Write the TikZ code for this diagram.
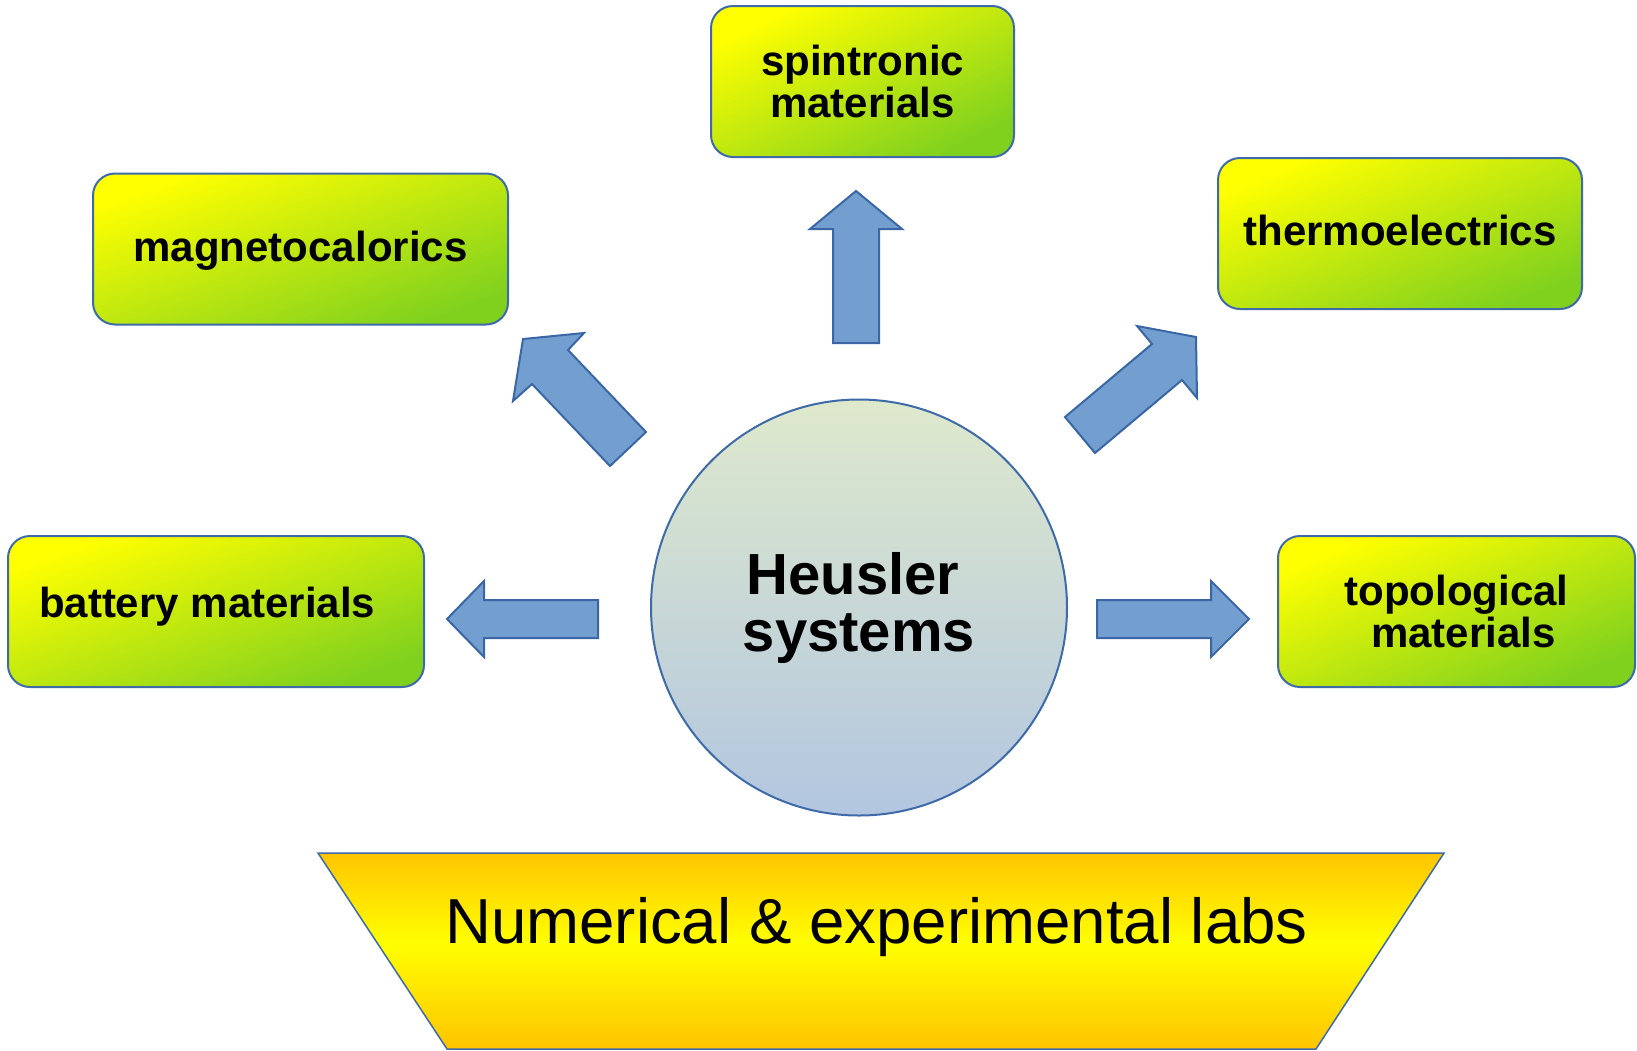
\documentclass[tikz,border=0pt]{standalone}
\usepackage{fontspec}
\setmainfont{Liberation Sans}
\usetikzlibrary{shapes.geometric}

\definecolor{edgeblue}{RGB}{62,106,170}
\definecolor{arrowfill}{RGB}{114,159,207}
\definecolor{arrowedge}{RGB}{58,102,165}
\definecolor{boxyellow}{RGB}{255,255,0}
\definecolor{boxgreen}{RGB}{128,209,30}
\definecolor{hubtop}{RGB}{222,233,204}
\definecolor{hubbottom}{RGB}{178,198,224}

% orange-yellow-orange band for the base
\pgfdeclareverticalshading{labshade}{100bp}{%
  rgb(0bp)=(1,0.77,0); rgb(25bp)=(1,0.77,0); rgb(52bp)=(1,1,0);
  rgb(75bp)=(1,0.77,0); rgb(100bp)=(1,0.77,0)}

\begin{document}
\begin{tikzpicture}[x=1pt,y=-1pt,
  topic/.style={draw=edgeblue, line width=2pt, rounded corners=22pt,
    minimum height=151pt, inner sep=0pt, align=center,
    font=\fontsize{42}{42}\selectfont\bfseries,
    top color=boxyellow, bottom color=boxgreen},
  oneline/.style={text height=31pt, text depth=6.5pt},
  hub/.style={circle, draw=edgeblue, line width=2pt, minimum size=416pt,
    inner sep=0pt, align=center, font=\fontsize{58}{57}\selectfont\bfseries,
    top color=hubtop, bottom color=hubbottom},
  blockarrow/.style={fill=arrowfill, draw=arrowedge, line width=2pt, line join=miter},
  labbase/.style={draw=edgeblue, line width=1.5pt, shading=labshade}
]
\useasboundingbox (0,0) rectangle (1637,1050);

% application boxes (gradient runs from the top-left to the bottom-right corner)
\node[topic, minimum width=303pt, shading angle=26.5] (spin) at (862.5,81.5) {spintronic\\materials};
\node[topic, oneline, minimum width=415pt, shading angle=20] (magneto) at (300.5,249) {magnetocalorics};
\node[topic, oneline, minimum width=364pt, shading angle=22.5] (thermo) at (1400,233.5) {thermoelectrics};
\node[topic, oneline, text depth=20pt, minimum width=416pt, shading angle=20] (battery) at (216,611.5)
  {\makebox[354pt][l]{battery materials}};
\node[topic, minimum width=357pt, shading angle=23] (topo) at (1456.5,611.5)
  {topological\\\hspace*{14pt}materials};

% central hub
\node[hub] (heusler) at (859,607.5) {Heusler\hspace*{12pt}\\systems};

% block arrows pointing outwards
\draw[blockarrow] (856,191) -- (902,229) -- (879,229) -- (879,343)
  -- (833,343) -- (833,229) -- (810,229) -- cycle;
\draw[blockarrow] (447,619) -- (484,581) -- (484,600) -- (598,600)
  -- (598,638) -- (484,638) -- (484,657) -- cycle;
\draw[blockarrow] (1249,619) -- (1211,581) -- (1211,600) -- (1097,600)
  -- (1097,638) -- (1211,638) -- (1211,657) -- cycle;
\draw[blockarrow] (523,339) -- (584,333) -- (568,350) -- (646,432)
  -- (610,466) -- (532,384) -- (513,401) -- cycle;
\draw[blockarrow] (1196,337) -- (1197,398) -- (1182,380) -- (1095,453)
  -- (1065,417) -- (1152,344) -- (1137,326) -- cycle;

% base trapezoid
\path[labbase] (318,853) -- (1444,853) -- (1316,1049) -- (447,1049) -- cycle;
\node[font=\fontsize{63.6}{64}\selectfont, anchor=base] (labs) at (876.5,943)
  {Numerical \& experimental labs};
\end{tikzpicture}
\end{document}
